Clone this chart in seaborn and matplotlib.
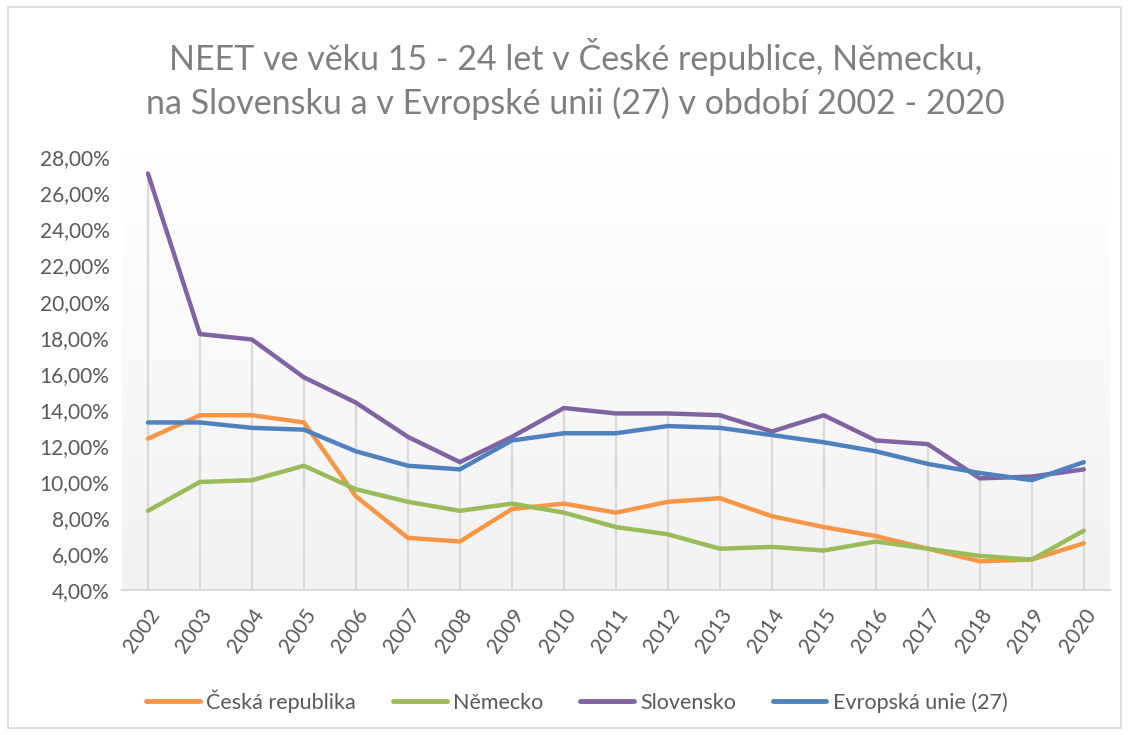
import numpy as np
import pandas as pd
import seaborn as sns
import matplotlib.pyplot as plt
from matplotlib.ticker import FuncFormatter
from matplotlib.patches import Rectangle

years = list(range(2002, 2021))
cesko = [12.4, 13.7, 13.7, 13.3, 9.2, 6.9, 6.7, 8.5, 8.8, 8.3, 8.9, 9.1, 8.1, 7.5, 7.0, 6.3, 5.6, 5.7, 6.6]
nemecko = [8.4, 10.0, 10.1, 10.9, 9.6, 8.9, 8.4, 8.8, 8.3, 7.5, 7.1, 6.3, 6.4, 6.2, 6.7, 6.3, 5.9, 5.7, 7.3]
slovensko = [27.1, 18.2, 17.9, 15.8, 14.4, 12.5, 11.1, 12.5, 14.1, 13.8, 13.8, 13.7, 12.8, 13.7, 12.3, 12.1, 10.2, 10.3, 10.7]
eu27 = [13.3, 13.3, 13.0, 12.9, 11.7, 10.9, 10.7, 12.3, 12.7, 12.7, 13.1, 13.0, 12.6, 12.2, 11.7, 11.0, 10.5, 10.1, 11.1]

series_names = ["Česká republika", "Německo", "Slovensko", "Evropská unie (27)"]
colors = ["#F79646", "#9BBB59", "#8064A2", "#4F81BD"]

df = pd.DataFrame({
    "rok": years * 4,
    "hodnota": cesko + nemecko + slovensko + eu27,
    "zeme": sum([[n] * len(years) for n in series_names], []),
})

sns.set_style("white")
plt.rcParams["font.family"] = ["Lato", "DejaVu Sans"]
text_color = "#595959"

fig = plt.figure(figsize=(11.29, 7.35), dpi=100)
ax = fig.add_axes([0.108, 0.197, 0.875, 0.589])

# gradient background of the plot area
grad = np.linspace(0, 1, 256).reshape(-1, 1)
ax.imshow(grad, cmap=sns.blend_palette(["#F2F2F2", "#FFFFFF"], as_cmap=True),
          extent=[2001.5, 2020.5, 4, 28], aspect="auto", origin="lower", zorder=0)

# drop lines
tops = df.groupby("rok")["hodnota"].max()
ax.vlines(tops.index, 4, tops.values, color="#D9D9D9", lw=1.6, zorder=1)

sns.lineplot(data=df, x="rok", y="hodnota", hue="zeme", hue_order=series_names,
             palette=colors, lw=3.2, ax=ax, legend=False, zorder=3)

ax.set_xlim(2001.5, 2020.5)
ax.set_ylim(4, 28)
ax.set_yticks(np.arange(4, 29, 2))
ax.yaxis.set_major_formatter(FuncFormatter(lambda v, p: f"{v:.2f}%".replace(".", ",")))
ax.set_xticks(years)
ax.set_xticklabels([str(y) for y in years], rotation=55, ha="right",
                   rotation_mode="anchor")
ax.tick_params(axis="both", length=0, labelsize=15, colors=text_color)
ax.tick_params(axis="x", pad=11)
ax.tick_params(axis="y", pad=9)
ax.set_xlabel("")
ax.set_ylabel("")
for s in ["top", "right", "left"]:
    ax.spines[s].set_visible(False)
ax.spines["bottom"].set_color("#D9D9D9")
ax.spines["bottom"].set_linewidth(1.5)

fig.text(0.51, 0.948, "NEET ve věku 15 - 24 let v České republice, Německu,\n"
         "na Slovensku a v Evropské unii (27) v období 2002 - 2020",
         ha="center", va="top", fontsize=24.5, color="#7F7F7F", linespacing=1.38)

handles = [plt.Line2D([], [], color=c, lw=3.5, solid_capstyle="round") for c in colors]
fig.legend(handles, series_names, loc="center", bbox_to_anchor=(0.511, 0.046), ncol=4,
           frameon=False, fontsize=15.5, labelcolor=text_color, handlelength=2.5,
           handletextpad=0.3, columnspacing=1.7)

fig.patches.append(Rectangle((0.007, 0.01), 0.986, 0.98, transform=fig.transFigure,
                             fill=False, edgecolor="#D9D9D9", lw=1.2))

fig.savefig("out.png", dpi=100, facecolor="white")
